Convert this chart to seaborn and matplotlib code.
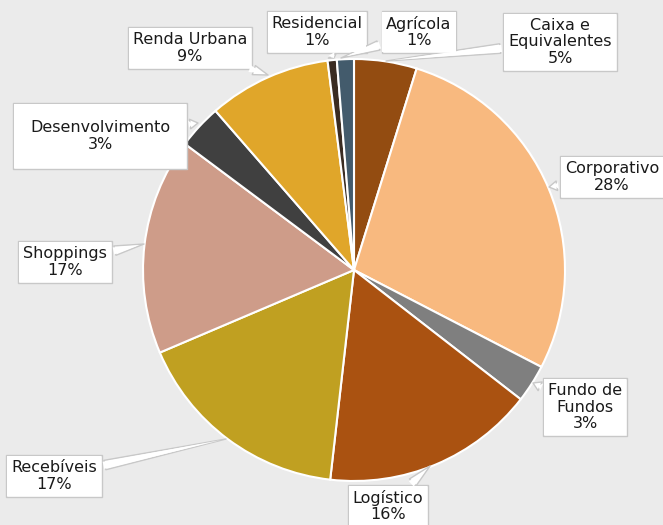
import matplotlib
matplotlib.use("Agg")
import matplotlib.pyplot as plt
import seaborn as sns

# ---- data ----
categories = ["Caixa e\nEquivalentes", "Corporativo", "Fundo de\nFundos", "Logístico",
              "Recebíveis", "Shoppings", "Desenvolvimento", "Renda Urbana",
              "Residencial", "Agrícola"]
values = [4.8, 27.8, 2.9, 16.3, 16.8, 16.6, 3.4, 9.4, 0.7, 1.3]

# ---- styles ----
palette = ["#934C11", "#F8B97F", "#7F7F7F", "#AA5211", "#C0A021",
           "#CE9C89", "#404040", "#E0A62A", "#3A2C22", "#435B6C"]
BG = "#EBEBEB"
EDGE = "#C8C8C8"

sns.set_theme(style="white")
plt.rcParams["font.family"] = ["DejaVu Sans"]

W, H = 663, 525
fig = plt.figure(figsize=(W / 100, H / 100), dpi=100, facecolor=BG)
ax = fig.add_axes([0, 0, 1, 1])
ax.set_facecolor(BG)

CX, CY, R = 354, 270, 211


def to_data(px, py):
    return ((px - CX) / R, (CY - py) / R)


ax.pie(values, colors=palette, startangle=90, counterclock=False,
       wedgeprops=dict(edgecolor="white", linewidth=1.5))
ax.set_xlim(-CX / R, (W - CX) / R)
ax.set_ylim((CY - H) / R, CY / R)
ax.set_aspect("auto")
ax.axis("off")

# label layout: (box centre px, pointer target px, pad)
layout = [
    ((560, 42), (386, 61), 0.3),
    ((612, 177), (549, 187), 0.3),
    ((585, 407), (533, 383), 0.3),
    ((388, 506), (430, 466), 0.3),
    ((54, 476), (226, 439), 0.3),
    ((65, 262), (144, 244), 0.3),
    ((100, 136), (198, 123), 1.05),
    ((190, 48), (268, 75), 0.3),
    ((317, 32), (334, 58), 0.3),
    ((419, 32), (341, 58), 0.3),
]

for cat, v, (bc, tg, pad) in zip(categories, values, layout):
    label = f"{cat}\n{v:.0f}%"
    common = dict(xy=to_data(*tg), xytext=to_data(*bc), ha="center", va="center",
                  fontsize=11.5, color="#1A1A1A", linespacing=1.15)
    # outlined callout
    ax.annotate(label, zorder=5, **common,
                bbox=dict(boxstyle=f"square,pad={pad}", fc="white", ec=EDGE, lw=1),
                arrowprops=dict(arrowstyle="wedge,tail_width=0.6",
                                fc="white", ec=EDGE, lw=1, shrinkB=0))
    # white overlay that opens the box border where the pointer joins
    ax.annotate(label, zorder=6, **common,
                bbox=dict(boxstyle=f"square,pad={pad - 0.06}", fc="white",
                          ec="none", lw=0),
                arrowprops=dict(arrowstyle="wedge,tail_width=0.45",
                                fc="white", ec="none", lw=0, shrinkB=4))

fig.savefig("out.png", dpi=100, facecolor=BG)
